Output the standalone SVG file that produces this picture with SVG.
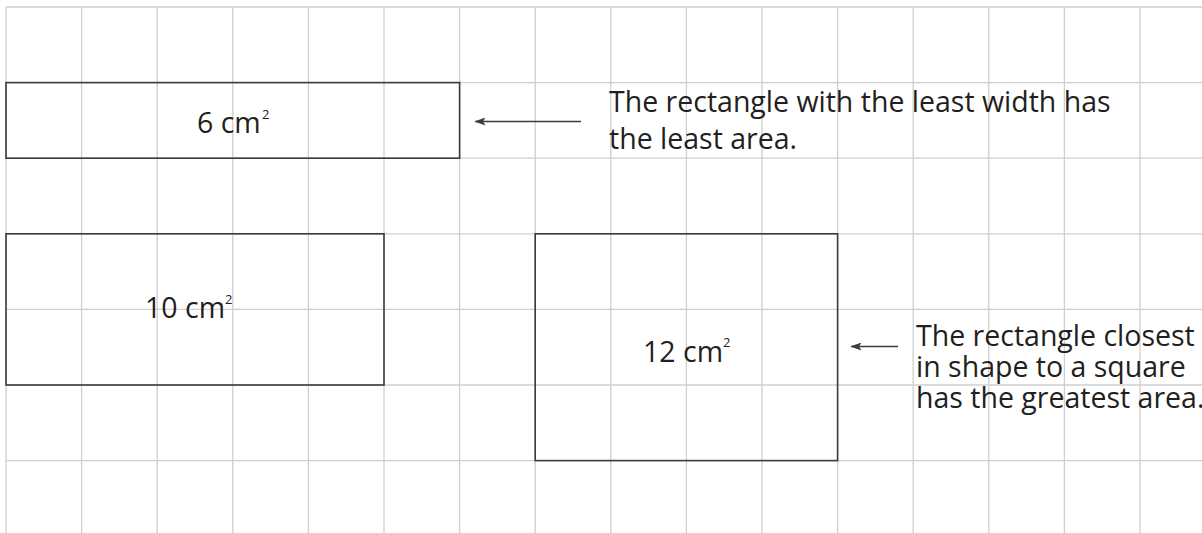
<svg xmlns="http://www.w3.org/2000/svg" width="1202" height="533" viewBox="0 0 1202 533">
<style>
.grid line{stroke:#cfcfcf;stroke-width:1.3}
.box{fill:none;stroke:#3c3c3c;stroke-width:1.6}
.t{font-family:"Open Sans","Noto Sans",sans-serif;font-size:28.5px;fill:#231f20}
.sup{font-family:"Open Sans","Noto Sans",sans-serif;font-size:13px;fill:#231f20}
.arrow{stroke:#3c3c3c;stroke-width:1.4;fill:none;marker-end:url(#ah)}
</style>
<defs>
<marker id="ah" viewBox="0 0 11 8" refX="10.5" refY="4" markerWidth="11" markerHeight="8" markerUnits="userSpaceOnUse" orient="auto">
<path d="M0,0 L11,4 L0,8 L2.5,4 Z" fill="#3c3c3c"/>
</marker>
</defs>
<rect width="1202" height="533" fill="#ffffff"/>
<g class="grid">
<line x1="6" y1="7" x2="6" y2="533"/>
<line x1="81.6" y1="7" x2="81.6" y2="533"/>
<line x1="157.2" y1="7" x2="157.2" y2="533"/>
<line x1="232.8" y1="7" x2="232.8" y2="533"/>
<line x1="308.4" y1="7" x2="308.4" y2="533"/>
<line x1="384" y1="7" x2="384" y2="533"/>
<line x1="459.6" y1="7" x2="459.6" y2="533"/>
<line x1="535.2" y1="7" x2="535.2" y2="533"/>
<line x1="610.8" y1="7" x2="610.8" y2="533"/>
<line x1="686.4" y1="7" x2="686.4" y2="533"/>
<line x1="762" y1="7" x2="762" y2="533"/>
<line x1="837.6" y1="7" x2="837.6" y2="533"/>
<line x1="913.2" y1="7" x2="913.2" y2="533"/>
<line x1="988.8" y1="7" x2="988.8" y2="533"/>
<line x1="1064.4" y1="7" x2="1064.4" y2="533"/>
<line x1="1140" y1="7" x2="1140" y2="533"/>
<line x1="6" y1="7" x2="1202" y2="7"/>
<line x1="6" y1="82.6" x2="1202" y2="82.6"/>
<line x1="6" y1="158.2" x2="1202" y2="158.2"/>
<line x1="6" y1="233.8" x2="1202" y2="233.8"/>
<line x1="6" y1="309.4" x2="1202" y2="309.4"/>
<line x1="6" y1="385" x2="1202" y2="385"/>
<line x1="6" y1="460.6" x2="1202" y2="460.6"/>
</g>
<g id="rect6">
<rect class="box" x="6" y="82.6" width="453.6" height="75.6"/>
<text class="t" x="197" y="133">6 cm</text>
<text class="sup" x="262" y="119">2</text>
</g>
<g id="rect10">
<rect class="box" x="6" y="233.8" width="378" height="151.2"/>
<text class="t" x="145" y="318">10 cm</text>
<text class="sup" x="225" y="304">2</text>
</g>
<g id="rect12">
<rect class="box" x="535.2" y="233.8" width="302.4" height="226.8"/>
<text class="t" x="643" y="362">12 cm</text>
<text class="sup" x="723" y="347">2</text>
</g>
<g id="note1">
<text class="t" x="609" y="112">The rectangle with the least width has</text>
<text class="t" x="609" y="149">the least area.</text>
</g>
<g id="note2">
<text class="t" x="916" y="346">The rectangle closest</text>
<text class="t" x="916" y="377">in shape to a square</text>
<text class="t" x="916" y="408">has the greatest area.</text>
</g>
<g id="connectors">
<line class="arrow" x1="581" y1="121.5" x2="475" y2="121.5"/>
<line class="arrow" x1="898" y1="346.5" x2="851" y2="346.5"/>
</g>
</svg>
